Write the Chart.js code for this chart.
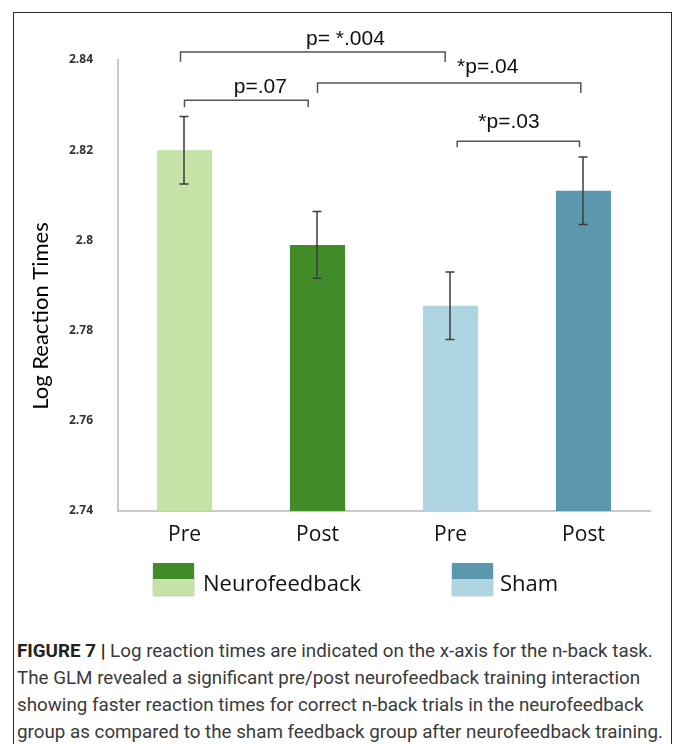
<!DOCTYPE html>
<html lang="en">
    <head>
        <meta charset="UTF-8" />
        <title>Log Reaction Times</title>
        <style>
            html, body {
                margin: 0;
                padding: 0;
                background: #fff;
                width: 674px;
                height: 744px;
                overflow: hidden;
            }
            #frame {
                position: absolute;
                left: 13px;
                top: 12px;
                width: 657px;
                height: 800px;
                border: 1.5px solid #2a2a2a;
            }
            #chart-wrap {
                position: absolute;
                left: 0;
                top: 0;
                width: 674px;
                height: 610px;
            }
            #caption {
                position: absolute;
                left: 17px;
                top: 638px;
                font-family: Roboto, "Liberation Sans", sans-serif;
                font-size: 18.8px;
                line-height: 27px;
                color: #3a3a3a;
                white-space: nowrap;
            }
            #caption b {
                color: #222;
            }
        </style>
    </head>
    <body>
        <div id="frame"></div>
        <div id="chart-wrap">
            <canvas id="rtChart" width="674" height="610"></canvas>
        </div>
        <div id="caption">
            <b>FIGURE 7 |</b> Log reaction times are indicated on the x-axis for the n-back task.<br />
            The GLM revealed a significant pre/post neurofeedback training interaction<br />
            showing faster reaction times for correct n-back trials in the neurofeedback<br />
            group as compared to the sham feedback group after neurofeedback training.
        </div>

        <script src="https://cdn.jsdelivr.net/npm/chart.js"></script>
        <script>
            // valeurs
            const categories = ["Pre", "Post", "Pre", "Post"];
            const meanLogRT = [2.82, 2.799, 2.7855, 2.811];
            const stdError = [0.0075, 0.0074, 0.0075, 0.0075];
            const barColors = ["#c5e3a6", "#428b29", "#afd4e2", "#5b98ad"];
            const yTicks = [2.74, 2.76, 2.78, 2.8, 2.82, 2.84];

            // légende : couleur post (haut) / pré (bas)
            const groupNames = ["Neurofeedback", "Sham"];
            const groupPostColor = ["#428b29", "#5b98ad"];
            const groupPreColor = ["#c5e3a6", "#afd4e2"];

            // crochets de significativité (positions en index de catégorie)
            const pLabels = ["p= *.004", "p=.07", "*p=.04", "*p=.03"];
            const pFrom = [-0.03, 0, 1, 2.05];
            const pTo = [1.96, 0.93, 2.98, 2.97];
            const pLevel = [2.8418, 2.8311, 2.8349, 2.822];
            const pTextAt = [1.21, 0.57, 2.28, 2.44];
            const pDrop = [10, 7, 10, 6];
            const pTextGap = [7, 7, 10, 13];

            Chart.defaults.font.family = "'Open Sans', sans-serif";

            const overlay = {
                id: "overlay",
                afterDatasetsDraw(chart) {
                    const { ctx } = chart;
                    const x = chart.scales.x;
                    const y = chart.scales.y;
                    ctx.save();

                    // barres d'erreur
                    ctx.strokeStyle = "#3c3c3c";
                    ctx.lineWidth = 1.5;
                    meanLogRT.forEach((m, i) => {
                        const cx = Math.round(x.getPixelForValue(i)) - 1;
                        const top = y.getPixelForValue(m + stdError[i]);
                        const bot = y.getPixelForValue(m - stdError[i]);
                        ctx.beginPath();
                        ctx.moveTo(cx, top);
                        ctx.lineTo(cx, bot);
                        ctx.moveTo(cx - 4.5, top);
                        ctx.lineTo(cx + 4.5, top);
                        ctx.moveTo(cx - 4.5, bot);
                        ctx.lineTo(cx + 4.5, bot);
                        ctx.stroke();
                    });

                    // crochets p
                    ctx.strokeStyle = "#555";
                    ctx.lineWidth = 1.5;
                    ctx.fillStyle = "#111";
                    ctx.font = "21px 'Liberation Sans', Arial, sans-serif";
                    ctx.textAlign = "center";
                    ctx.textBaseline = "alphabetic";
                    pLabels.forEach((label, i) => {
                        const x0 = x.getPixelForValue(pFrom[i]);
                        const x1 = x.getPixelForValue(pTo[i]);
                        const ly = y.getPixelForValue(pLevel[i]);
                        ctx.beginPath();
                        ctx.moveTo(x0, ly + pDrop[i]);
                        ctx.lineTo(x0, ly);
                        ctx.lineTo(x1, ly);
                        ctx.lineTo(x1, ly + pDrop[i]);
                        ctx.stroke();
                        ctx.fillText(label, x.getPixelForValue(pTextAt[i]), ly - pTextGap[i]);
                    });
                    ctx.restore();
                },
                afterDraw(chart) {
                    const { ctx } = chart;
                    ctx.save();

                    // titre de l'axe y
                    ctx.translate(41, 316);
                    ctx.rotate(-Math.PI / 2);
                    ctx.fillStyle = "#000";
                    ctx.font = "22px Lato, sans-serif";
                    ctx.textAlign = "center";
                    ctx.textBaseline = "middle";
                    ctx.fillText("Log Reaction Times", 0, 0);
                    ctx.setTransform(1, 0, 0, 1, 0, 0);

                    // légende
                    const swatchX = [153, 452];
                    const textX = [203, 500];
                    groupNames.forEach((name, i) => {
                        ctx.save();
                        ctx.shadowColor = "rgba(0,0,0,0.3)";
                        ctx.shadowBlur = 2;
                        ctx.shadowOffsetY = 1;
                        ctx.fillStyle = groupPreColor[i];
                        ctx.fillRect(swatchX[i], 563, 41, 32);
                        ctx.restore();
                        ctx.fillStyle = groupPostColor[i];
                        ctx.fillRect(swatchX[i], 563, 41, 16);
                        ctx.fillStyle = "#111";
                        ctx.font = "22px 'Open Sans', sans-serif";
                        ctx.textAlign = "left";
                        ctx.textBaseline = "middle";
                        ctx.fillText(name, textX[i], 585);
                    });
                    ctx.restore();
                },
            };

            const ctx = document.getElementById("rtChart").getContext("2d");
            const rtChart = new Chart(ctx, {
                type: "bar",
                data: {
                    labels: categories,
                    datasets: [
                        {
                            label: "Log Reaction Times",
                            data: meanLogRT,
                            backgroundColor: barColors,
                            borderWidth: 0,
                            categoryPercentage: 1,
                            barPercentage: 0.415,
                        },
                    ],
                },
                options: {
                    responsive: false,
                    animation: false,
                    devicePixelRatio: 1,
                    layout: {
                        padding: { top: 60, right: 24, bottom: 59, left: 0 },
                    },
                    plugins: {
                        legend: { display: false },
                        tooltip: { enabled: false },
                    },
                    scales: {
                        x: {
                            grid: { display: false },
                            border: { color: "#c9c9c9", width: 2 },
                            ticks: {
                                color: "#111",
                                font: { size: 21 },
                                padding: 3,
                            },
                            afterFit: (scale) => {
                                scale.height = 40;
                            },
                        },
                        y: {
                            min: 2.74,
                            max: 2.84,
                            grid: { display: false },
                            border: { color: "#c9c9c9", width: 2 },
                            afterBuildTicks: (scale) => {
                                scale.ticks = yTicks.map((v) => ({ value: v }));
                            },
                            ticks: {
                                color: "#333",
                                font: { size: 12, weight: "bold" },
                                padding: 17,
                                callback: (v) => String(Number(v.toFixed(2))),
                            },
                            afterFit: (scale) => {
                                scale.width = 118;
                            },
                        },
                    },
                },
                plugins: [overlay],
            });
        </script>
    </body>
</html>
